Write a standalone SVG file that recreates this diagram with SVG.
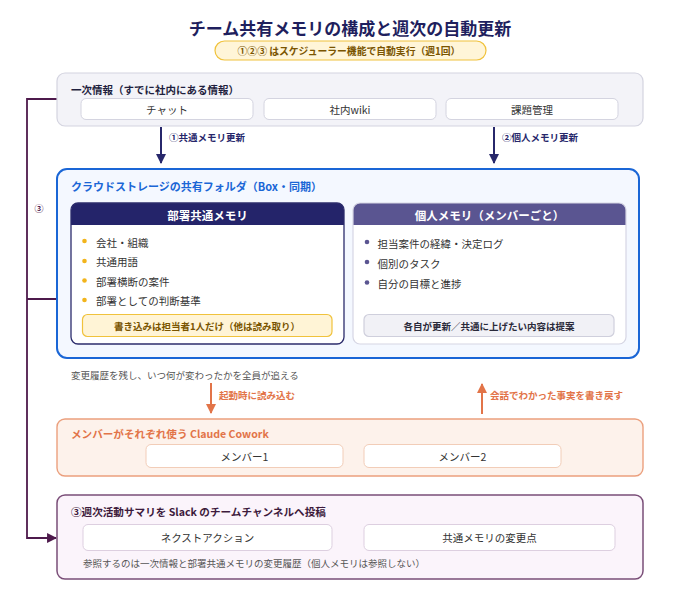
<svg xmlns="http://www.w3.org/2000/svg" width="700" height="600" viewBox="0 0 700 600">
<defs>
<style>
text{font-family:"Noto Sans CJK JP","Noto Sans",sans-serif;dominant-baseline:central}
.title{font-size:17px;font-weight:700;fill:#1f1f5e}
.pilltxt{font-size:9.8px;font-weight:700;fill:#7a5400}
.lbl{font-size:10.5px;font-weight:700;fill:#1f1f3e}
.cell{fill:#ffffff;stroke:#d4d4e0;stroke-width:1}
.celltxt{font-size:10.5px;fill:#333;text-anchor:middle}
.navy{stroke:#27276b;stroke-width:2;fill:none}
.navytxt{font-size:9.5px;font-weight:700;fill:#27276b}
.item{font-size:10.5px;fill:#333}
.orange{stroke:#e27448;stroke-width:2;fill:none}
.orangetxt{font-size:9.5px;font-weight:700;fill:#e27448}
.purple{stroke:#4e1a4c;stroke-width:1.8;fill:none}
.note{font-size:9.5px;fill:#555}
</style>
<marker id="an" viewBox="0 0 10 10" refX="9" refY="5" markerWidth="5" markerHeight="5" orient="auto" markerUnits="strokeWidth"><path d="M0,0L10,5L0,10z" fill="#27276b"/></marker>
<marker id="ao" viewBox="0 0 10 10" refX="9" refY="5" markerWidth="5" markerHeight="5" orient="auto" markerUnits="strokeWidth"><path d="M0,0L10,5L0,10z" fill="#e27448"/></marker>
<marker id="ap" viewBox="0 0 10 10" refX="9" refY="5" markerWidth="5.5" markerHeight="5.5" orient="auto" markerUnits="strokeWidth"><path d="M0,0L10,5L0,10z" fill="#4e1a4c"/></marker>
</defs>
<rect width="700" height="600" fill="#ffffff"/>

<g id="title">
<text class="title" x="350" y="27" text-anchor="middle">チーム共有メモリの構成と週次の自動更新</text>
<rect x="215" y="41" width="271" height="19" rx="9.5" fill="#fff5d8" stroke="#f0c23c" stroke-width="1.2"/>
<text class="pilltxt" x="349" y="50.5" text-anchor="middle">①②③ はスケジューラー機能で自動実行（週1回）</text>
</g>

<g id="connectors">
<line class="navy" x1="161" y1="127" x2="161" y2="163" marker-end="url(#an)"/>
<text class="navytxt" x="169" y="137">①共通メモリ更新</text>
<line class="navy" x1="494" y1="127" x2="494" y2="163" marker-end="url(#an)"/>
<text class="navytxt" x="502" y="137">②個人メモリ更新</text>
<line class="orange" x1="211" y1="383" x2="211" y2="413" marker-end="url(#ao)"/>
<text class="orangetxt" x="219" y="395">起動時に読み込む</text>
<line class="orange" x1="482" y1="414" x2="482" y2="384" marker-end="url(#ao)"/>
<text class="orangetxt" x="490" y="395">会話でわかった事実を書き戻す</text>
<polyline class="purple" points="57,99 27,99 27,538 56,538" marker-end="url(#ap)"/>
<line class="purple" x1="27" y1="299" x2="71" y2="299"/>
<text x="39" y="208" text-anchor="middle" style="font-size:9px;font-weight:700;fill:#4e1a4c">③</text>
</g>

<g id="primary">
<rect x="57" y="73" width="586" height="53" rx="8" fill="#f3f3f8" stroke="#d4d4e0" stroke-width="1.2"/>
<text class="lbl" x="71" y="89">一次情報（すでに社内にある情報）</text>
<rect class="cell" x="81" y="98.5" width="172" height="21" rx="5"/>
<text class="celltxt" x="167" y="109">チャット</text>
<rect class="cell" x="264" y="98.5" width="172" height="21" rx="5"/>
<text class="celltxt" x="350" y="109">社内wiki</text>
<rect class="cell" x="446" y="98.5" width="172" height="21" rx="5"/>
<text class="celltxt" x="532" y="109">課題管理</text>
</g>

<g id="cloud">
<rect x="57" y="169" width="582" height="189" rx="10" fill="#f4f8ff" stroke="#1a66d6" stroke-width="2"/>
<text x="71" y="186" style="font-size:11px;font-weight:700;fill:#1a66d6">クラウドストレージの共有フォルダ（Box・同期）</text>
</g>

<g id="shared-memory">
<rect x="71" y="203" width="273" height="141" rx="7" fill="#ffffff"/>
<path d="M71,225V210a7,7 0 0 1 7,-7H337a7,7 0 0 1 7,7V225Z" fill="#24246a"/>
<rect x="71" y="203" width="273" height="141" rx="7" fill="none" stroke="#2c2c6c" stroke-width="1.3"/>
<text x="207.5" y="214.5" text-anchor="middle" style="font-size:11.5px;font-weight:700;fill:#fff">部署共通メモリ</text>
<g fill="#f2b41c"><circle cx="84.5" cy="241" r="2.3"/><circle cx="84.5" cy="261" r="2.3"/><circle cx="84.5" cy="280.5" r="2.3"/><circle cx="84.5" cy="300" r="2.3"/></g>
<text class="item" x="96" y="242">会社・組織</text>
<text class="item" x="96" y="261.5">共通用語</text>
<text class="item" x="96" y="281">部署横断の案件</text>
<text class="item" x="96" y="300.5">部署としての判断基準</text>
<rect x="82.5" y="314.5" width="249.5" height="22" rx="5" fill="#fff4d6" stroke="#f0c23c" stroke-width="1.2"/>
<text x="207" y="325.5" text-anchor="middle" style="font-size:9.5px;font-weight:700;fill:#7a5400">書き込みは担当者1人だけ（他は読み取り）</text>
</g>

<g id="personal-memory">
<rect x="353" y="203" width="273" height="141" rx="7" fill="#ffffff"/>
<path d="M353,225V210a7,7 0 0 1 7,-7H619a7,7 0 0 1 7,7V225Z" fill="#5a5591"/>
<rect x="353" y="203" width="273" height="141" rx="7" fill="none" stroke="#d6d6e4" stroke-width="1.2"/>
<text x="489.5" y="214.5" text-anchor="middle" style="font-size:11.5px;font-weight:700;fill:#fff">個人メモリ（メンバーごと）</text>
<g fill="#5a5591"><circle cx="367" cy="242" r="2.3"/><circle cx="367" cy="262" r="2.3"/><circle cx="367" cy="282.5" r="2.3"/></g>
<text class="item" x="377.5" y="243">担当案件の経緯・決定ログ</text>
<text class="item" x="377.5" y="263">個別のタスク</text>
<text class="item" x="377.5" y="283.5">自分の目標と進捗</text>
<rect x="364" y="314.5" width="250" height="22" rx="5" fill="#f1f1f6" stroke="#cfcfdc" stroke-width="1.2"/>
<text x="489" y="325.5" text-anchor="middle" style="font-size:9.5px;font-weight:700;fill:#2a2a3a">各自が更新／共通に上げたい内容は提案</text>
</g>

<text class="note" x="71" y="374.5">変更履歴を残し、いつ何が変わったかを全員が追える</text>

<g id="cowork">
<rect x="57" y="419" width="586" height="57" rx="8" fill="#fdf2eb" stroke="#eba07e" stroke-width="1.4"/>
<text x="71" y="433.5" style="font-size:10.6px;font-weight:700;fill:#e27448">メンバーがそれぞれ使う Claude Cowork</text>
<rect x="146" y="444.5" width="197" height="23" rx="5" fill="#fff" stroke="#f2cdb8" stroke-width="1"/>
<text class="celltxt" x="244.5" y="456">メンバー1</text>
<rect x="364" y="444.5" width="197" height="23" rx="5" fill="#fff" stroke="#f2cdb8" stroke-width="1"/>
<text class="celltxt" x="462.5" y="456">メンバー2</text>
</g>

<g id="summary">
<rect x="57" y="495" width="586" height="84" rx="8" fill="#fbf4fb" stroke="#7a4e78" stroke-width="1.5"/>
<text x="71" y="511" style="font-size:10.6px;font-weight:700;fill:#3d1a3c">③週次活動サマリを Slack のチームチャンネルへ投稿</text>
<rect x="83" y="524.5" width="249" height="26" rx="5" fill="#fff" stroke="#ddcfe0" stroke-width="1"/>
<text class="celltxt" x="207.5" y="537.5">ネクストアクション</text>
<rect x="364" y="524.5" width="251" height="26" rx="5" fill="#fff" stroke="#ddcfe0" stroke-width="1"/>
<text class="celltxt" x="489.5" y="537.5">共通メモリの変更点</text>
<text class="note" x="83" y="563">参照するのは一次情報と部署共通メモリの変更履歴（個人メモリは参照しない）</text>
</g>
</svg>
